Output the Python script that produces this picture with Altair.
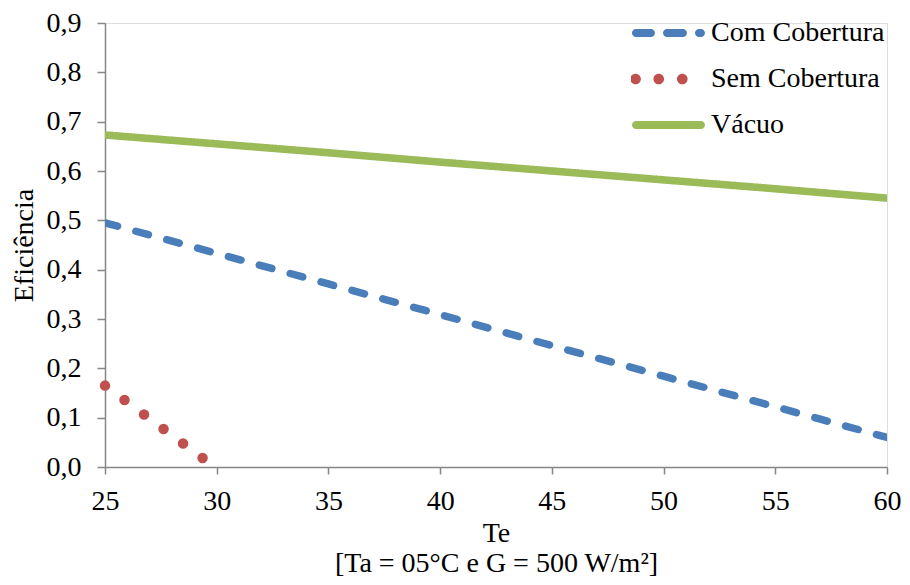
import altair as alt
import pandas as pd

# ---- data ----
series = ["Com Cobertura", "Sem Cobertura", "Vácuo"]
colors = ["#4A7EBB", "#C0504D", "#9BBB59"]

te = [25, 30, 35, 40, 45, 50, 55, 60]
com_cobertura = [0.495, 0.433, 0.371, 0.309, 0.246, 0.184, 0.122, 0.060]
vacuo = [0.673, 0.655, 0.637, 0.618, 0.600, 0.582, 0.564, 0.545]
te_sem = [25, 30]
sem_cobertura = [0.165, -0.003]

x_ticks = [25, 30, 35, 40, 45, 50, 55, 60]
y_ticks = [0.0, 0.1, 0.2, 0.3, 0.4, 0.5, 0.6, 0.7, 0.8, 0.9]

rows = []
for t, v in zip(te, com_cobertura):
    rows.append({"serie": series[0], "te": t, "ef": v})
for t, v in zip(te_sem, sem_cobertura):
    rows.append({"serie": series[1], "te": t, "ef": v})
for t, v in zip(te, vacuo):
    rows.append({"serie": series[2], "te": t, "ef": v})
df = pd.DataFrame(rows)

FONT = "'Times New Roman', 'Liberation Serif', serif"
FS = 28
AX = "#868686"

xscale = alt.Scale(domain=[25, 60], nice=False, zero=False)
yscale = alt.Scale(domain=[0, 0.9], nice=False)

xaxis = alt.Axis(values=x_ticks, grid=False, ticks=True, tickSize=7, labelPadding=13,
                 labelFlush=False, labelOverlap=False,
                 domainColor=AX, tickColor=AX, domainWidth=1.5, tickWidth=1.5,
                 labelFont=FONT, labelFontSize=FS, labelColor="black",
                 titleFont=FONT, titleFontSize=FS, titleFontWeight="normal",
                 titleColor="black", titleLineHeight=30, titlePadding=4)
yaxis = alt.Axis(values=y_ticks, grid=False, ticks=True, tickSize=8, labelPadding=16,
                 labelFlush=False, labelOverlap=False,
                 labelExpr="replace(format(datum.value, '.1f'), '.', ',')",
                 domainColor=AX, tickColor=AX, domainWidth=1.5, tickWidth=1.5,
                 labelFont=FONT, labelFontSize=FS, labelColor="black",
                 titleFont=FONT, titleFontSize=FS, titleFontWeight="normal",
                 titleColor="black", titlePadding=8)

X = alt.X("te:Q", scale=xscale, axis=xaxis, title=["Te", "[Ta = 05°C e G = 500 W/m²]"])
Y = alt.Y("ef:Q", scale=yscale, axis=yaxis, title="Eficiência")

base = alt.Chart(df)

def line_layer(name, color, dash, width, clip=True):
    return base.transform_filter(alt.datum.serie == name).mark_line(
        color=color, strokeDash=dash, strokeWidth=width,
        strokeCap="round", strokeJoin="round", clip=clip,
    ).encode(x=X, y=Y)

l_com = line_layer(series[0], colors[0], [13, 19], 7.5)
l_sem = line_layer(series[1], colors[1], [0, 24.3], 10.5, clip=False)
l_vac = line_layer(series[2], colors[2], [1, 0], 7.5)

# legend symbols (custom paths in the [-1,1] box, 76px wide)
def stadium(x1, x2, h):
    return (f"M{x1},{-h} L{x2},{-h} A{h},{h} 0 0 1 {x2},{h} "
            f"L{x1},{h} A{h},{h} 0 0 1 {x1},{-h} Z")

def circle(cx, r):
    return (f"M{cx - r},0 A{r},{r} 0 1 0 {cx + r},0 "
            f"A{r},{r} 0 1 0 {cx - r},0 Z")

h = 0.105
p_com = " ".join([stadium(-0.869, -0.474, h), stadium(-0.053, 0.368, h),
                  stadium(0.789, 0.842, h)])
p_sem = " ".join([circle(-0.88, 0.14), circle(-0.27, 0.14), circle(0.35, 0.14)])
p_vac = stadium(-0.868, 0.842, h)

legend = alt.Legend(title=None, orient="none", legendX=526, legendY=-4,
                    padding=0, clipHeight=28, rowPadding=18, labelOffset=4,
                    symbolSize=5776,
                    labelFont=FONT, labelFontSize=FS, labelColor="black",
                    labelLimit=400, symbolStrokeWidth=0, symbolOpacity=1)

leg = base.transform_filter("false").mark_point(
    filled=True, size=5776, opacity=1
).encode(
    x=X, y=Y,
    shape=alt.Shape("serie:N", scale=alt.Scale(domain=series, range=[p_com, p_sem, p_vac]),
                    legend=legend),
    fill=alt.Fill("serie:N", scale=alt.Scale(domain=series, range=colors), legend=legend),
)

chart = alt.layer(l_vac, l_com, l_sem, leg).properties(
    width=782, height=444,
    autosize="none",
    padding={"left": 97, "top": 15, "right": 15, "bottom": 110},
).configure_view(stroke=None).configure(background="white")

chart.save("out.html", embed_options={"renderer": "svg", "actions": False})
